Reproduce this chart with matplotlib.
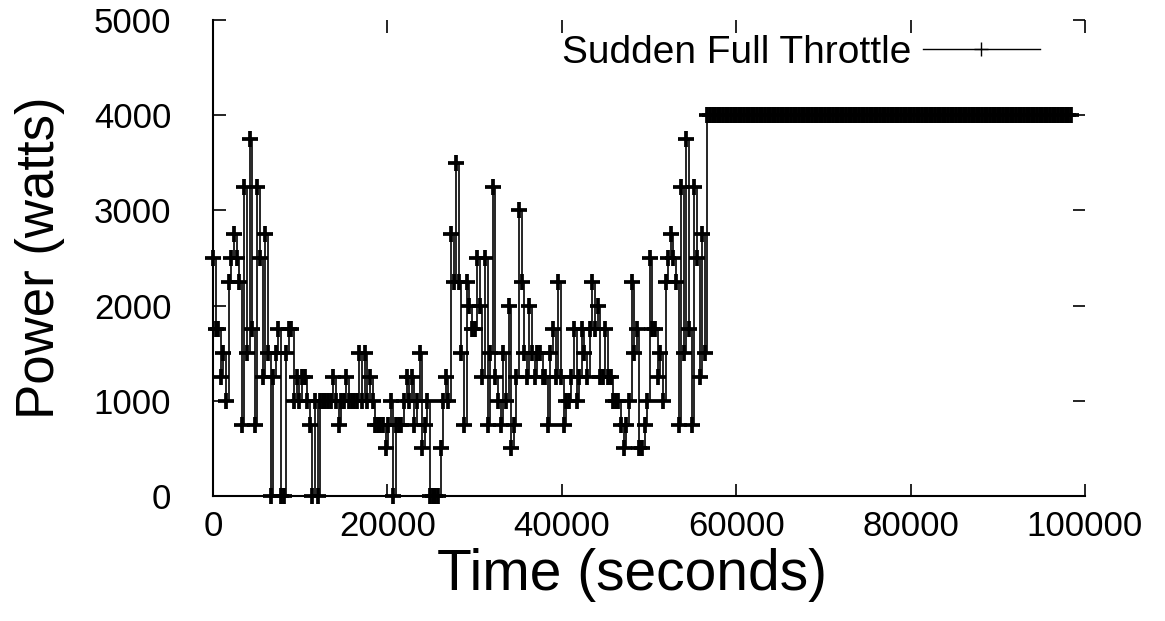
import matplotlib
matplotlib.use("Agg")
import matplotlib.pyplot as plt
from matplotlib.lines import Line2D
import numpy as np

plt.rcParams['font.family'] = ['Liberation Sans', 'DejaVu Sans']

# sample spacing (seconds) and power readings (watts) before the throttle jump
sample_step = 300
power_before = [
    2500, 1750, 1750, 1250, 1500, 1000, 2250, 2500, 2750, 2500,
    2250, 750, 3250, 1500, 3750, 1750, 750, 3250, 2500, 1250,
    2750, 1500, 0, 1250, 1500, 1750, 0, 0, 1500, 1750,
    1750, 1000, 1250, 1000, 1250, 1250, 1000, 750, 0, 1000,
    0, 1000, 1000, 1000, 1000, 1000, 1250, 1000, 750, 1000,
    1000, 1250, 1000, 1000, 1000, 1000, 1500, 1000, 1500, 1000,
    1250, 1000, 750, 750, 750, 750, 500, 750, 1000, 0,
    750, 750, 750, 1000, 1250, 1000, 1250, 750, 1000, 1500,
    500, 750, 1000, 0, 0, 0, 0, 500, 1000, 1250,
    1000, 2750, 2250, 3500, 2250, 1500, 750, 2250, 2000, 1750,
    1750, 2500, 2000, 1250, 2500, 750, 1500, 3250, 1250, 1000,
    750, 1500, 1000, 2000, 500, 750, 1250, 3000, 2250, 1500,
    1250, 2000, 1500, 1250, 1500, 1500, 1250, 1250, 750, 1500,
    1750, 1250, 2250, 1250, 750, 1000, 1000, 1250, 1750, 1000,
    1250, 1750, 1500, 1250, 1750, 2250, 1750, 2000, 1250, 1250,
    1750, 1250, 1250, 1000, 1000, 1000, 750, 500, 750, 1000,
    2250, 1500, 1750, 500, 500, 750, 1000, 2500, 1750, 1750,
    1250, 1500, 1000, 2250, 2500, 2750, 2500, 2250, 750, 3250,
    1500, 3750, 1750, 750, 3250, 2500, 1250, 2750, 1500,
]
# after the jump the power sits at full throttle
full_throttle = 4000
full_throttle_samples = 140

xticks = [0, 20000, 40000, 60000, 80000, 100000]
yticks = [0, 1000, 2000, 3000, 4000, 5000]
series_label = "Sudden Full Throttle"

power = power_before + [full_throttle] * full_throttle_samples
time = np.arange(len(power)) * sample_step

fig = plt.figure(figsize=(11.65, 6.21), dpi=100)
ax = fig.add_axes([0.1828, 0.2013, 0.7485, 0.7665])

ax.plot(time, power, color='black', lw=1.2, drawstyle='steps-post',
        marker='+', ms=11, mew=2.7, clip_on=False)

ax.set_xlim(0, 100000)
ax.set_ylim(0, 5000)
ax.set_xticks(xticks)
ax.set_xticklabels([str(t) for t in xticks])
ax.set_yticks(yticks)
ax.set_yticklabels([str(t) for t in yticks])

ax.spines['top'].set_visible(False)
ax.spines['right'].set_visible(False)
ax.spines['left'].set_linewidth(1.5)
ax.spines['bottom'].set_linewidth(1.5)
ax.tick_params(direction='in', length=9, width=1.2, top=True, right=True,
               labelsize=25)
ax.tick_params(axis='y', pad=30)
ax.tick_params(axis='x', pad=10)

ax.set_xlabel("Time (seconds)", fontsize=41)
ax.xaxis.label.set_verticalalignment('center')
ax.xaxis.set_label_coords(0.48, -0.166)
ax.set_ylabel("Power (watts)", fontsize=38)
ax.yaxis.label.set_verticalalignment('center')
ax.yaxis.set_label_coords(-0.198, 0.5)

handle = Line2D([], [], color='black', lw=1, marker='+', ms=10, mew=1)
ax.legend([handle], [series_label], loc='center right',
          bbox_to_anchor=(0.948, 0.9307), frameon=False, markerfirst=False,
          fontsize=28, borderpad=0, borderaxespad=0, handletextpad=0.3,
          handlelength=3.0, numpoints=1)

fig.savefig("out.png", dpi=100)
